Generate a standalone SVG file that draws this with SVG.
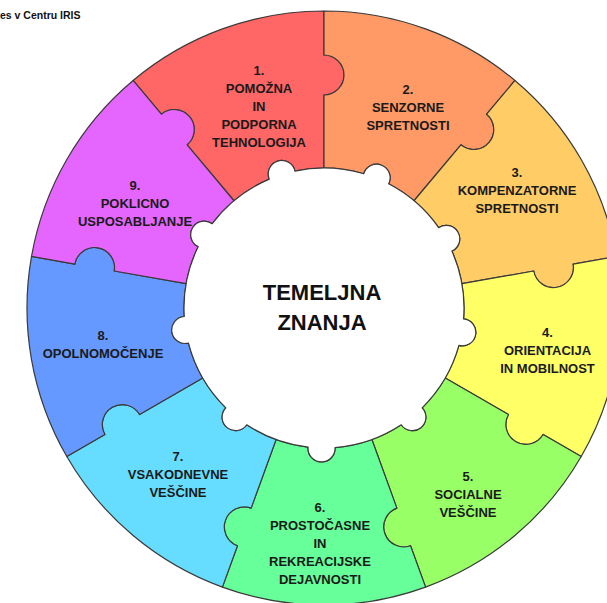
<svg xmlns="http://www.w3.org/2000/svg" width="607" height="603" viewBox="0 0 607 603">
<style>
.seg{stroke:#3a3a3a;stroke-width:1.2;stroke-linejoin:round}
.lbl{font-family:"Liberation Sans",Arial,sans-serif;font-weight:bold;font-size:13px;fill:#1a1a1a;text-anchor:middle}
.ctr{font-family:"Liberation Sans",Arial,sans-serif;font-weight:bold;font-size:22px;fill:#111;text-anchor:middle}
.ttl{font-family:"Liberation Sans",Arial,sans-serif;font-weight:bold;font-size:10.5px;fill:#111}
</style>
<rect width="607" height="603" fill="#fff"/>
<text class="ttl" x="0" y="19">es v Centru IRIS</text>
<g id="connectors"/>
<g id="seg1">
<path class="seg" fill="#FF6666" d="M 234.01 200.75 L 187.09 144.83 A 20 20 0 0 0 161.37 114.19 L 133.09 80.48 A 297 297 0 0 1 324 11 L 324 55 A 20 20 0 0 1 324 95 L 324 168 A 140 140 0 0 0 294.92 171.05 A 13.5 13.5 0 1 0 269.27 179.14 A 140 140 0 0 0 234.01 200.75 Z"/>
<text class="lbl" x="259"><tspan x="259" y="75">1.</tspan><tspan x="259" y="93">POMOŽNA</tspan><tspan x="259" y="111">IN</tspan><tspan x="259" y="129">PODPORNA</tspan><tspan x="259" y="147">TEHNOLOGIJA</tspan></text>
</g>
<g id="seg2">
<path class="seg" fill="#FF9966" d="M 324 168 L 324 95 A 20 20 0 0 0 324 55 L 324 11 A 297 297 0 0 1 514.91 80.48 L 486.63 114.19 A 20 20 0 0 1 460.91 144.83 L 413.99 200.75 A 140 140 0 0 0 388.68 183.83 A 13.5 13.5 0 1 0 363.73 173.76 A 140 140 0 0 0 324 168 Z"/>
<text class="lbl"><tspan x="408" y="94">2.</tspan><tspan x="408" y="112">SENZORNE</tspan><tspan x="408" y="130">SPRETNOSTI</tspan></text>
</g>
<g id="seg3">
<path class="seg" fill="#FFCC66" d="M 413.99 200.75 L 460.91 144.83 A 20 20 0 0 0 486.63 114.19 L 514.91 80.48 A 297 297 0 0 1 616.49 256.43 L 573.16 264.07 A 20 20 0 0 1 533.76 271.01 L 461.87 283.69 A 140 140 0 0 0 451.91 251.09 A 13.5 13.5 0 1 0 438.66 227.67 A 140 140 0 0 0 413.99 200.75 Z"/>
<text class="lbl"><tspan x="517" y="177">3.</tspan><tspan x="517" y="195">KOMPENZATORNE</tspan><tspan x="517" y="213">SPRETNOSTI</tspan></text>
</g>
<g id="seg4">
<path class="seg" fill="#FFFF66" d="M 461.87 283.69 L 533.76 271.01 A 20 20 0 0 0 573.16 264.07 L 616.49 256.43 A 297 297 0 0 1 581.21 456.5 L 543.10 434.5 A 20 20 0 0 1 508.46 414.5 L 445.24 378 A 140 140 0 0 0 458.90 345.45 A 13.5 13.5 0 1 0 463.57 318.95 A 140 140 0 0 0 461.87 283.69 Z"/>
<text class="lbl"><tspan x="547.5" y="337">4.</tspan><tspan x="547.5" y="355">ORIENTACIJA</tspan><tspan x="547.5" y="373">IN MOBILNOST</tspan></text>
</g>
<g id="seg5">
<path class="seg" fill="#99FF66" d="M 445.24 378 L 508.46 414.5 A 20 20 0 0 0 543.10 434.5 L 581.21 456.5 A 297 297 0 0 1 425.58 587.09 L 410.53 545.74 A 20 20 0 0 1 396.85 508.15 L 371.88 439.56 A 140 140 0 0 0 401.24 424.76 A 13.5 13.5 0 1 0 422.15 407.83 A 140 140 0 0 0 445.24 378 Z"/>
<text class="lbl"><tspan x="468" y="481">5.</tspan><tspan x="468" y="499">SOCIALNE</tspan><tspan x="468" y="517">VEŠČINE</tspan></text>
</g>
<g id="seg6">
<path class="seg" fill="#66FF99" d="M 371.88 439.56 L 396.85 508.15 A 20 20 0 0 0 410.53 545.74 L 425.58 587.09 A 297 297 0 0 1 222.42 587.09 L 237.47 545.74 A 20 20 0 0 1 251.15 508.15 L 276.12 439.56 A 140 140 0 0 0 308.12 447.10 A 13.5 13.5 0 1 0 335.02 447.57 A 140 140 0 0 0 371.88 439.56 Z"/>
<text class="lbl"><tspan x="320" y="511.5">6.</tspan><tspan x="320" y="529.5">PROSTOČASNE</tspan><tspan x="320" y="547.5">IN</tspan><tspan x="320" y="565.5">REKREACIJSKE</tspan><tspan x="320" y="583.5">DEJAVNOSTI</tspan></text>
</g>
<g id="seg7">
<path class="seg" fill="#66DDFF" d="M 276.12 439.56 L 251.15 508.15 A 20 20 0 0 0 237.47 545.74 L 222.42 587.09 A 297 297 0 0 1 66.79 456.5 L 104.90 434.5 A 20 20 0 0 1 139.54 414.5 L 202.76 378 A 140 140 0 0 0 225.84 407.83 A 13.5 13.5 0 1 0 246.76 424.76 A 140 140 0 0 0 276.12 439.56 Z"/>
<text class="lbl"><tspan x="178" y="461">7.</tspan><tspan x="178" y="479">VSAKODNEVNE</tspan><tspan x="178" y="497">VEŠČINE</tspan></text>
</g>
<g id="seg8">
<path class="seg" fill="#6699FF" d="M 202.76 378 L 139.54 414.5 A 20 20 0 0 0 104.90 434.5 L 66.79 456.5 A 297 297 0 0 1 31.51 256.43 L 74.84 264.07 A 20 20 0 0 1 114.24 271.01 L 186.13 283.69 A 140 140 0 0 0 184.26 316.51 A 13.5 13.5 0 1 0 188.47 343.08 A 140 140 0 0 0 202.76 378 Z"/>
<text class="lbl"><tspan x="103" y="340">8.</tspan><tspan x="103" y="358">OPOLNOMOČENJE</tspan></text>
</g>
<g id="seg9">
<path class="seg" fill="#E466FF" d="M 186.13 283.69 L 114.24 271.01 A 20 20 0 0 0 74.84 264.07 L 31.51 256.43 A 297 297 0 0 1 133.09 80.48 L 161.37 114.19 A 20 20 0 0 1 187.09 144.83 L 234.01 200.75 A 140 140 0 0 0 212.21 223.72 A 13.5 13.5 0 1 0 198.15 246.66 A 140 140 0 0 0 186.13 283.69 Z"/>
<text class="lbl"><tspan x="135" y="190">9.</tspan><tspan x="135" y="208">POKLICNO</tspan><tspan x="135" y="226">USPOSABLJANJE</tspan></text>
</g>
<g id="center">
<path class="seg" fill="#FFFFFF" d="M 269.27 179.14 A 13.5 13.5 0 1 1 294.92 171.05 A 140 140 0 0 1 363.73 173.76 A 13.5 13.5 0 1 1 388.68 183.83 A 140 140 0 0 1 438.66 227.67 A 13.5 13.5 0 1 1 451.91 251.09 A 140 140 0 0 1 463.57 318.95 A 13.5 13.5 0 1 1 458.90 345.45 A 140 140 0 0 1 422.15 407.83 A 13.5 13.5 0 1 1 401.24 424.76 A 140 140 0 0 1 335.02 447.57 A 13.5 13.5 0 1 1 308.12 447.10 A 140 140 0 0 1 246.76 424.76 A 13.5 13.5 0 1 1 225.84 407.83 A 140 140 0 0 1 188.47 343.08 A 13.5 13.5 0 1 1 184.26 316.51 A 140 140 0 0 1 198.15 246.66 A 13.5 13.5 0 1 1 212.21 223.72 A 140 140 0 0 1 269.27 179.14 Z"/>
<text class="ctr"><tspan x="322" y="300">TEMELJNA</tspan><tspan x="322" y="330">ZNANJA</tspan></text>
</g>
</svg>
